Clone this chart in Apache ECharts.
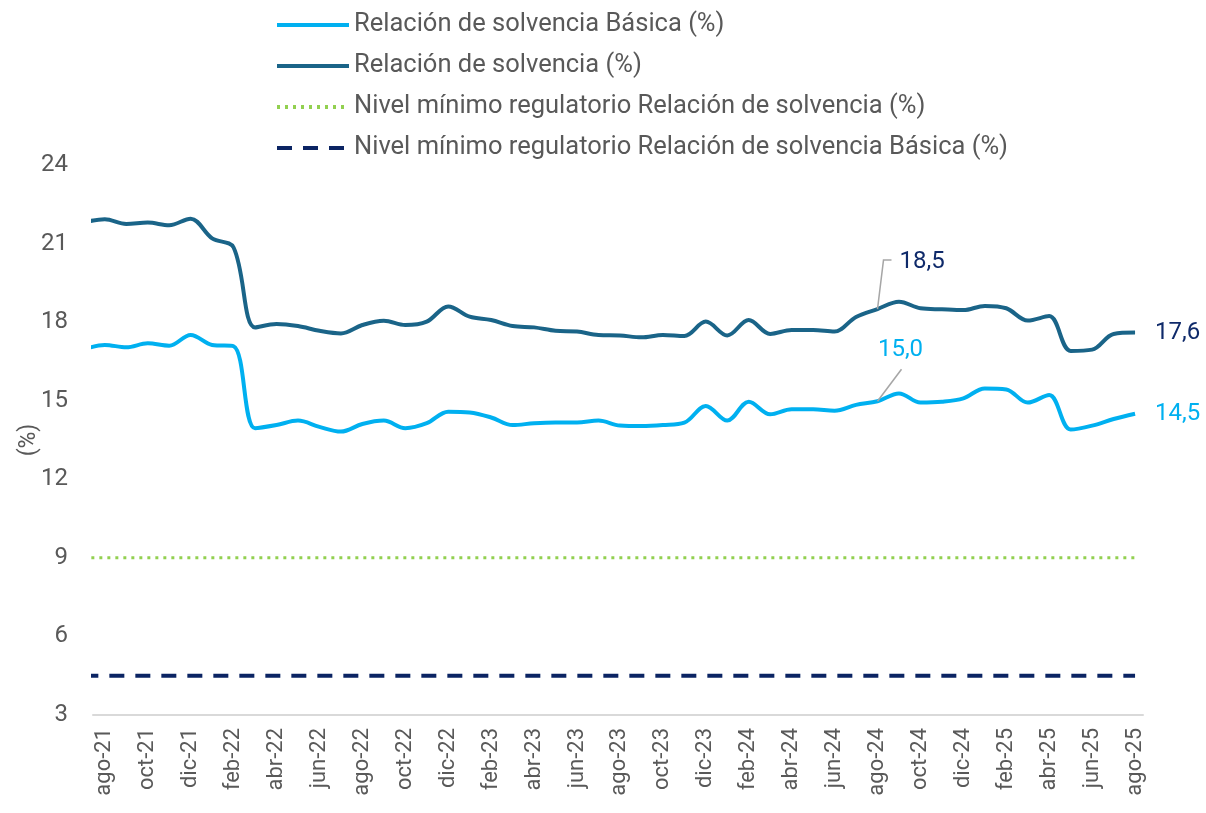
<!DOCTYPE html>
<html>
<head>
<meta charset="utf-8">
<script src="https://cdn.jsdelivr.net/npm/echarts@6.0.0/dist/echarts.min.js"></script>
<style>
html,body{margin:0;padding:0;background:#fff;}
#chart{width:1206px;height:813px;}
</style>
</head>
<body>
<div id="chart"></div>
<script>
// Months (first month jul-21 is only partially visible, clipped at the plot edge)
const categories = ["jul-21","ago-21","sep-21","oct-21","nov-21","dic-21","ene-22","feb-22","mar-22","abr-22","may-22","jun-22","jul-22","ago-22","sep-22","oct-22","nov-22","dic-22","ene-23","feb-23","mar-23","abr-23","may-23","jun-23","jul-23","ago-23","sep-23","oct-23","nov-23","dic-23","ene-24","feb-24","mar-24","abr-24","may-24","jun-24","jul-24","ago-24","sep-24","oct-24","nov-24","dic-24","ene-25","feb-25","mar-25","abr-25","may-25","jun-25","jul-25","ago-25"];

const solvenciaBasica = [16.95,17.13,17.04,17.19,17.10,17.51,17.13,17.08,13.95,14.07,14.24,14.00,13.82,14.11,14.24,13.95,14.14,14.58,14.55,14.36,14.07,14.14,14.17,14.17,14.24,14.05,14.03,14.07,14.16,14.80,14.24,14.96,14.48,14.67,14.67,14.62,14.84,14.98,15.28,14.93,14.96,15.09,15.47,15.43,14.93,15.22,13.90,14.05,14.30,14.50];

const solvencia = [21.80,21.93,21.75,21.80,21.70,21.95,21.20,20.85,17.80,17.93,17.85,17.67,17.57,17.89,18.05,17.89,18.02,18.60,18.21,18.08,17.85,17.80,17.67,17.64,17.51,17.49,17.42,17.51,17.47,18.02,17.49,18.08,17.55,17.70,17.70,17.64,18.20,18.50,18.78,18.53,18.49,18.46,18.62,18.53,18.06,18.23,16.90,16.95,17.55,17.60];

const minSolvencia = [9,9,9,9,9,9,9,9,9,9,9,9,9,9,9,9,9,9,9,9,9,9,9,9,9,9,9,9,9,9,9,9,9,9,9,9,9,9,9,9,9,9,9,9,9,9,9,9,9,9];

const minBasica = [4.5,4.5,4.5,4.5,4.5,4.5,4.5,4.5,4.5,4.5,4.5,4.5,4.5,4.5,4.5,4.5,4.5,4.5,4.5,4.5,4.5,4.5,4.5,4.5,4.5,4.5,4.5,4.5,4.5,4.5,4.5,4.5,4.5,4.5,4.5,4.5,4.5,4.5,4.5,4.5,4.5,4.5,4.5,4.5,4.5,4.5,4.5,4.5,4.5,4.5];

const xTickIdx = [1,3,5,7,9,11,13,15,17,19,21,23,25,27,29,31,33,35,37,39,41,43,45,47,49];
const yTicks = {min:3, max:24, interval:3};
const highlightIdx = 37; // ago-24

const seriesNames = ["Relación de solvencia Básica (%)","Relación de solvencia (%)","Nivel mínimo regulatorio Relación de solvencia (%)","Nivel mínimo regulatorio Relación de solvencia Básica (%)"];

const FONT = 'Roboto';
const GREY = '#595959';
const C_LIGHT = '#00b0f0';
const C_DARK = '#1a6488';
const C_NAVY = '#0f2a6a';
const C_GREEN = '#92d050';
const C_DASH = '#0b2463';

const pairs = arr => arr.map((v,i)=>[i,v]);
const fmt = v => v.toFixed(1).replace('.', ',');

const chart = echarts.init(document.getElementById('chart'), null, {renderer:'canvas'});
chart.setOption({
  animation:false,
  textStyle:{fontFamily:FONT},
  legend:{
    orient:'vertical', left:270, top:6,
    itemWidth:72, itemHeight:14, itemGap:13,
    itemStyle:{opacity:0},
    lineStyle:{width:4},
    textStyle:{fontFamily:FONT, fontSize:25.5, color:GREY, lineHeight:28},
    data:seriesNames
  },
  grid:{left:93, right:63, top:165, bottom:98, containLabel:false},
  xAxis:{
    type:'value', min:0.45, max:49.37,
    axisLine:{show:true, lineStyle:{color:'#d9d9d9', width:2}},
    axisTick:{show:false},
    splitLine:{show:false},
    axisLabel:{
      customValues:xTickIdx, rotate:90, margin:13,
      fontFamily:FONT, fontSize:22, color:GREY,
      formatter:v=>categories[Math.round(v)]
    }
  },
  yAxis:{
    type:'value', min:yTicks.min, max:yTicks.max, interval:yTicks.interval,
    name:'(%)', nameLocation:'middle', nameGap:52, nameRotate:90, nameMoveOverlap:false,
    nameTextStyle:{fontFamily:FONT, fontSize:23, color:GREY},
    axisLine:{show:false}, axisTick:{show:false}, splitLine:{show:false},
    axisLabel:{fontFamily:FONT, fontSize:24, color:GREY, margin:25}
  },
  series:[
    {
      name:seriesNames[0], type:'line', data:pairs(solvenciaBasica),
      smooth:0.35, showSymbol:false, symbol:'none', clip:true,
      lineStyle:{color:C_LIGHT, width:4}, itemStyle:{color:C_LIGHT},
      endLabel:{show:true, distance:20, fontFamily:FONT, fontSize:24, color:C_LIGHT,
        formatter:p=>fmt(p.value[1])},
      z:4
    },
    {
      name:seriesNames[1], type:'line', data:pairs(solvencia),
      smooth:0.35, showSymbol:false, symbol:'none', clip:true,
      lineStyle:{color:C_DARK, width:4}, itemStyle:{color:C_DARK},
      endLabel:{show:true, distance:20, fontFamily:FONT, fontSize:24, color:C_NAVY,
        formatter:p=>fmt(p.value[1])},
      z:4
    },
    {
      name:seriesNames[2], type:'line', data:pairs(minSolvencia),
      showSymbol:false, symbol:'none', clip:true,
      lineStyle:{color:C_GREEN, width:3, type:[3,5]}, itemStyle:{color:C_GREEN},
      z:3
    },
    {
      name:seriesNames[3], type:'line', data:pairs(minBasica),
      showSymbol:false, symbol:'none', clip:true,
      lineStyle:{color:C_DASH, width:4, type:[15,11]}, itemStyle:{color:C_DASH},
      z:3
    }
  ]
});

const pD = chart.convertToPixel({gridIndex:0}, [highlightIdx, solvencia[highlightIdx]]);
const pL = chart.convertToPixel({gridIndex:0}, [highlightIdx, solvenciaBasica[highlightIdx]]);
chart.setOption({
  graphic:[
    {type:'polyline', silent:true, z:10,
      shape:{points:[[pD[0],pD[1]],[pD[0]+6,pD[1]-49],[pD[0]+14,pD[1]-49]]},
      style:{stroke:'#a6a6a6', lineWidth:1.5, fill:null}},
    {type:'text', silent:true, z:10, x:pD[0]+22, y:pD[1]-47,
      style:{text:fmt(solvencia[highlightIdx]), font:'24px Roboto', fill:C_NAVY, align:'left', verticalAlign:'middle'}},
    {type:'polyline', silent:true, z:10,
      shape:{points:[[pL[0],pL[1]],[pL[0]+24,pL[1]-32]]},
      style:{stroke:'#a6a6a6', lineWidth:1.5, fill:null}},
    {type:'text', silent:true, z:10, x:pL[0]+23, y:pL[1]-51,
      style:{text:fmt(solvenciaBasica[highlightIdx]), font:'24px Roboto', fill:C_LIGHT, align:'center', verticalAlign:'middle'}}
  ]
});
</script>
</body>
</html>
